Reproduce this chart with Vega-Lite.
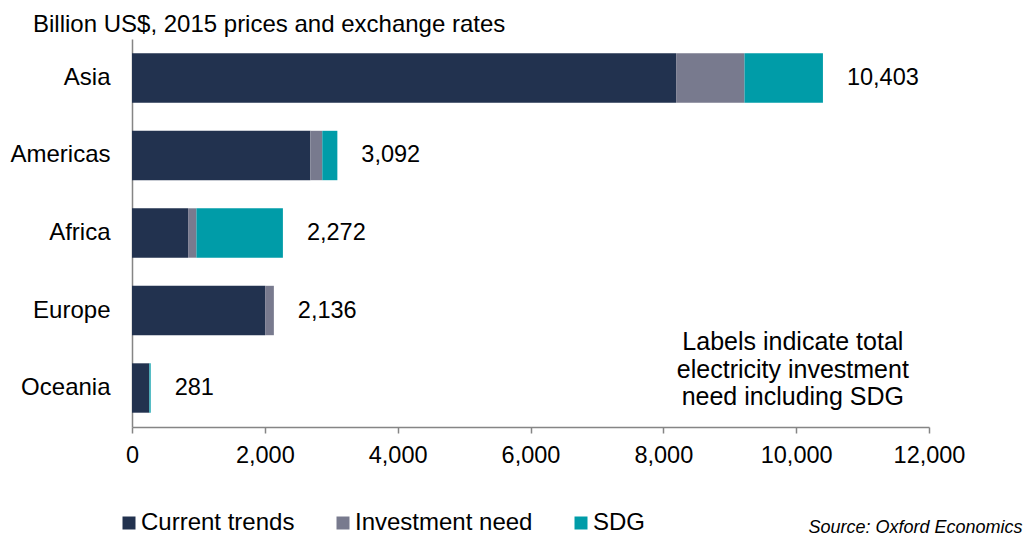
{
  "$schema": "https://vega.github.io/schema/vega-lite/v6.json",
  "autosize": {"type": "none"},
  "padding": {"left": 132, "top": 39, "right": 97, "bottom": 108},
  "width": 797,
  "height": 388,
  "background": "white",
  "config": {
    "view": {"stroke": null},
    "font": "Liberation Sans",
    "text": {"font": "Liberation Sans"}
  },
  "title": {
    "text": "Billion US$, 2015 prices and exchange rates",
    "anchor": "start",
    "frame": "group",
    "dx": -99,
    "offset": 2,
    "fontSize": 24,
    "fontWeight": "normal",
    "font": "Liberation Sans",
    "color": "#000000"
  },
  "datasets": {
    "bars": [
      {"region": "Asia", "type": "Current trends", "value": 8193},
      {"region": "Asia", "type": "Investment need", "value": 1029},
      {"region": "Asia", "type": "SDG", "value": 1181},
      {"region": "Americas", "type": "Current trends", "value": 2685},
      {"region": "Americas", "type": "Investment need", "value": 180},
      {"region": "Americas", "type": "SDG", "value": 227},
      {"region": "Africa", "type": "Current trends", "value": 845},
      {"region": "Africa", "type": "Investment need", "value": 125},
      {"region": "Africa", "type": "SDG", "value": 1302},
      {"region": "Europe", "type": "Current trends", "value": 2005},
      {"region": "Europe", "type": "Investment need", "value": 131},
      {"region": "Europe", "type": "SDG", "value": 0},
      {"region": "Oceania", "type": "Current trends", "value": 258},
      {"region": "Oceania", "type": "Investment need", "value": 4},
      {"region": "Oceania", "type": "SDG", "value": 19}
    ],
    "totals": [
      {"region": "Asia", "total": 10403},
      {"region": "Americas", "total": 3092},
      {"region": "Africa", "total": 2272},
      {"region": "Europe", "total": 2136},
      {"region": "Oceania", "total": 281}
    ],
    "note": [
      {"region": "Oceania", "x": 9950, "label": "Labels indicate total\nelectricity investment\nneed including SDG"}
    ]
  },
  "layer": [
    {
      "data": {"name": "bars"},
      "mark": {"type": "bar"},
      "encoding": {
        "y": {
          "field": "region",
          "type": "nominal",
          "sort": ["Asia", "Americas", "Africa", "Europe", "Oceania"],
          "scale": {"paddingInner": 0.3626, "paddingOuter": 0.1845},
          "axis": {
            "title": null,
            "ticks": false,
            "labelPadding": 22,
            "labelFontSize": 24,
            "labelFont": "Liberation Sans",
            "labelColor": "#000000",
            "domainColor": "#858585",
            "domainWidth": 1.5
          }
        },
        "x": {
          "field": "value",
          "type": "quantitative",
          "stack": "zero",
          "scale": {"domain": [0, 12000], "nice": false},
          "axis": {
            "values": [0, 2000, 4000, 6000, 8000, 10000, 12000],
            "format": ",.0f",
            "grid": false,
            "labelFlush": false,
            "labelOverlap": false,
            "tickSize": 6,
            "tickColor": "#858585",
            "tickWidth": 1.5,
            "domainColor": "#858585",
            "domainWidth": 1.5,
            "labelPadding": 10,
            "labelFontSize": 23.5,
            "labelFont": "Liberation Sans",
            "labelColor": "#000000",
            "title": "Source: Oxford Economics",
            "titleFont": "Liberation Sans",
            "titleFontStyle": "italic",
            "titleFontWeight": "normal",
            "titleFontSize": 18,
            "titleColor": "#000000",
            "titleAlign": "right",
            "titleAnchor": "end",
            "titleBaseline": "alphabetic",
            "titleX": 890,
            "titleY": 105
          }
        },
        "color": {
          "field": "type",
          "type": "nominal",
          "scale": {
            "domain": ["Current trends", "Investment need", "SDG"],
            "range": ["#22324f", "#787a8e", "#009ca8"]
          },
          "legend": {
            "title": null,
            "orient": "none",
            "direction": "horizontal",
            "legendX": -15,
            "legendY": 472,
            "symbolType": "square",
            "symbolSize": 169,
            "symbolStrokeWidth": 0,
            "symbolOpacity": 1,
            "labelFontSize": 24,
            "labelFont": "Liberation Sans",
            "labelColor": "#000000",
            "labelOffset": 0,
            "labelLimit": 400,
            "columnPadding": 36,
            "padding": 0
          }
        }
      }
    },
    {
      "data": {"name": "totals"},
      "mark": {"type": "text", "align": "left", "baseline": "middle", "dx": 24, "fontSize": 23.5, "font": "Liberation Sans", "color": "#000000"},
      "encoding": {
        "y": {"field": "region", "type": "nominal", "sort": ["Asia", "Americas", "Africa", "Europe", "Oceania"]},
        "x": {"field": "total", "type": "quantitative"},
        "text": {"field": "total", "type": "quantitative", "format": ","}
      }
    },
    {
      "data": {"name": "note"},
      "mark": {"type": "text", "align": "center", "baseline": "middle", "lineBreak": "\n", "lineHeight": 27.5, "dy": -46, "fontSize": 25, "font": "Liberation Sans", "color": "#000000"},
      "encoding": {
        "y": {"field": "region", "type": "nominal", "sort": ["Asia", "Americas", "Africa", "Europe", "Oceania"]},
        "x": {"field": "x", "type": "quantitative"},
        "text": {"field": "label", "type": "nominal"}
      }
    }
  ]
}
